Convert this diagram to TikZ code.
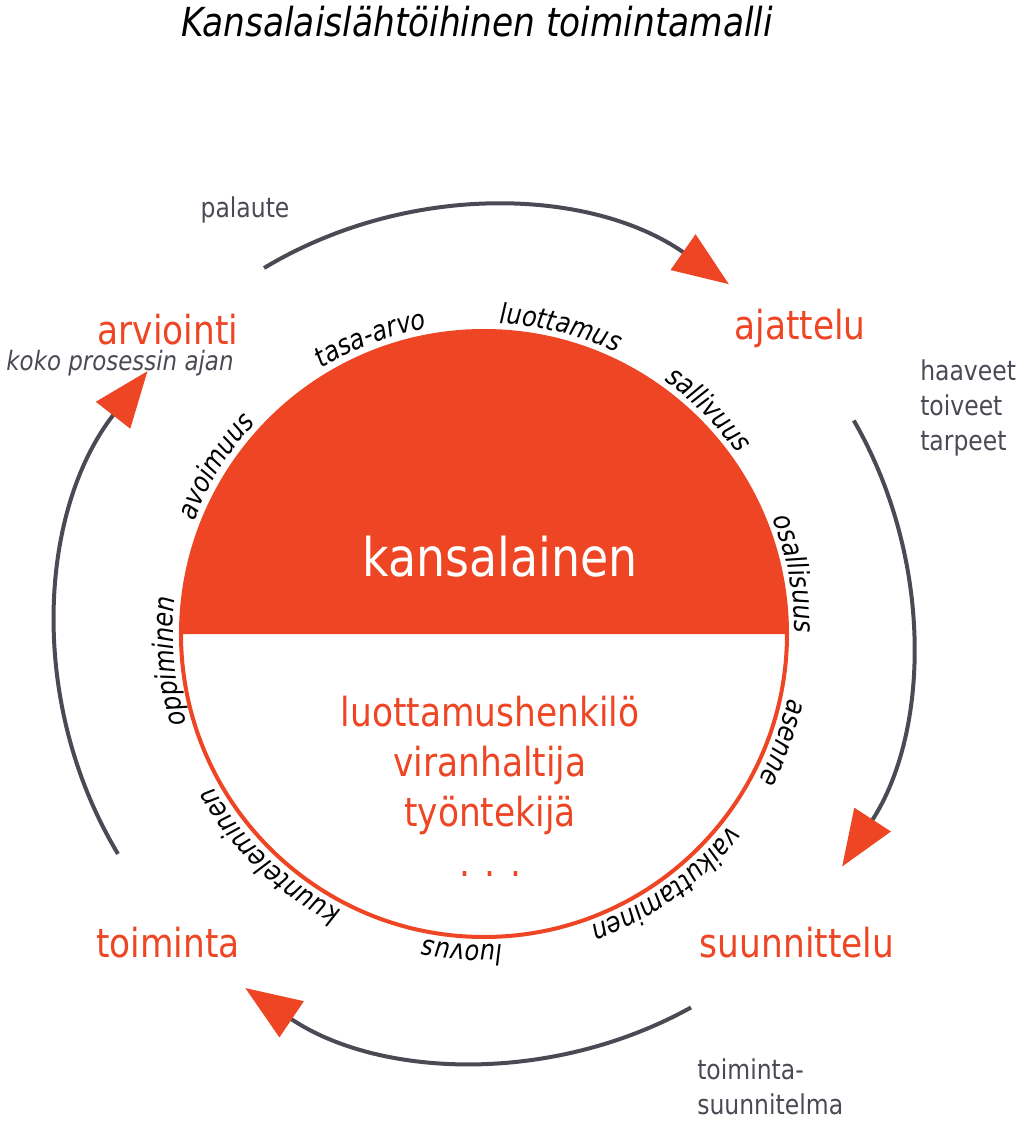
\documentclass[tikz,border=0pt]{standalone}
\usepackage{fontspec}
\setmainfont{DejaVu Sans}[FakeStretch=0.86]
\usetikzlibrary{arrows.meta,decorations.text}
\definecolor{kred}{HTML}{EE4524}
\definecolor{kgray}{HTML}{4A4A55}

\begin{document}
\begin{tikzpicture}[x=0.75pt, y=0.75pt,
    stage/.style={text=kred, font=\fontsize{30}{34}\selectfont, inner sep=0pt},
    note/.style={text=kgray, font=\fontsize{20.5}{26}\selectfont, inner sep=0pt, align=left},
    cycle/.style={draw=kgray, line width=3pt, -{Triangle[length=42pt, width=32pt, color=kred]}},
    value/.style={decoration={text along path, text align=center,
        text={|\fontsize{21}{24}\selectfont\itshape|#1}}, decorate}]
    \useasboundingbox (-484,-487) rectangle (540,634);

    % title
    \node[font=\fontsize{30}{34}\selectfont\itshape, inner sep=0pt] (title) at (-7,612) {Kansalaislähtöihinen toimintamalli};

    % circle
    \fill[kred] (303,0) arc[start angle=0, end angle=180, radius=303] -- cycle;
    \draw[kred, line width=3pt] (0,0) circle[radius=303];
    \node[text=white, font=\fontsize{40}{44}\selectfont, inner sep=0pt] (citizen) at (16,77) {kansalainen};
    \node[text=kred, font=\fontsize{30}{37.5}\selectfont, align=center, inner sep=0pt] (officials) at (6,-152)
        {luottamushenkilö\\viranhaltija\\työntekijä\\. . .};

    % values around the circle
    \foreach \ang/\word in {111/tasa-arvo, 76/luottamus, 45/sallivuus, 11/osallisuus, -20/asenne,
        -54/vaikuttaminen, -94/luovus, -134/kuunteleminen, -175/oppiminen, 148/avoimuus} {
        \path[value=\word] (\ang+40:311) arc[start angle=\ang+40, end angle=\ang-40, radius=311];
    }

    % cycle arrows
    \draw[cycle] (121:427) arc[start angle=121, end angle=55, radius=427];
    \draw[cycle] (30:427) arc[start angle=30, end angle=-33, radius=427];
    \draw[cycle] (-61:427) arc[start angle=-61, end angle=-124, radius=427];
    \draw[cycle] (-149:427) arc[start angle=-149, end angle=-218, radius=427];

    % stages
    \node[stage] (ajattelu) at (316,306) {ajattelu};
    \node[stage] (suunnittelu) at (313,-309) {suunnittelu};
    \node[stage] (toiminta) at (-316,-309) {toiminta};
    \node[stage] (arviointi) at (-316,304) {arviointi};
    \node[note, font=\fontsize{20}{22}\selectfont\itshape] (whole) at (-364,271) {koko prosessin ajan};

    % notes
    \node[note] (palaute) at (-239,424) {palaute};
    \node[note, anchor=west] (wishes) at (436,226) {haaveet\\toiveet\\tarpeet};
    \node[note, anchor=west] (plan) at (213,-453) {toiminta-\\suunnitelma};
\end{tikzpicture}
\end{document}
